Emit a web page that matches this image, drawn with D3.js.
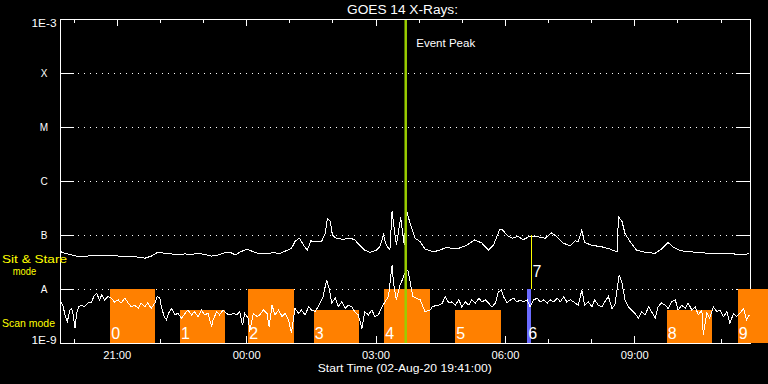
<!DOCTYPE html>
<html><head><meta charset="utf-8">
<script src="https://cdn.jsdelivr.net/npm/d3@7"></script>
<style>
html,body{margin:0;padding:0;background:#000;overflow:hidden;}
svg{display:block;}
text{font-family:"Liberation Sans",Arial,sans-serif;}
</style></head><body>
<svg id="chart" width="768" height="384"></svg>
<script>
// ---------- data ----------
const chartTitle = "GOES 14 X-Rays:";
const startLabel = "Start Time (02-Aug-20 19:41:00)";
const startTime = "2020-08-02T19:41:00";
const endTime = "2020-08-03T11:41:00";

const yTickValues = [1e-9, 1e-8, 1e-7, 1e-6, 1e-5, 1e-4, 1e-3];
const yTickLabels = ["1E-9", "A", "B", "C", "M", "X", "1E-3"];
const gridLevels = [1e-8, 1e-7, 1e-6, 1e-5, 1e-4];

// GOES long channel: [minutes after start, log10 flux (W/m^2)]
const longSeries = [[1,-7.31],[7,-7.34],[16,-7.37],[25,-7.40],[34,-7.40],[44,-7.38],[53,-7.37],[62,-7.38],[71,-7.37],[81,-7.39],[90,-7.39],[99,-7.40],[109,-7.41],[118,-7.43],[127,-7.39],[136,-7.32],[146,-7.34],[155,-7.35],[164,-7.37],[174,-7.35],[183,-7.36],[192,-7.34],[201,-7.36],[211,-7.39],[220,-7.37],[229,-7.33],[238,-7.33],[244,-7.37],[250,-7.32],[260,-7.26],[269,-7.31],[278,-7.35],[288,-7.34],[297,-7.33],[306,-7.34],[315,-7.29],[322,-7.25],[327,-7.12],[333,-7.06],[339,-7.19],[344,-7.28],[349,-7.11],[357,-7.12],[364,-7.12],[369,-6.97],[372,-6.69],[376,-6.75],[379,-7.00],[384,-7.06],[394,-7.08],[404,-7.06],[410,-7.09],[417,-7.19],[424,-7.28],[431,-7.32],[440,-7.28],[445,-7.22],[450,-7.00],[454,-7.19],[459,-7.28],[462,-6.56],[468,-7.19],[474,-6.67],[479,-7.19],[482,-6.54],[487,-6.78],[494,-7.06],[501,-7.12],[508,-7.26],[519,-7.31],[526,-7.29],[538,-7.23],[552,-7.26],[566,-7.19],[577,-7.09],[587,-7.15],[596,-7.28],[603,-7.19],[612,-6.89],[616,-6.91],[623,-7.02],[630,-7.06],[637,-7.02],[644,-7.09],[654,-7.02],[663,-7.03],[675,-7.06],[684,-6.96],[691,-7.03],[700,-7.15],[710,-7.20],[717,-7.11],[721,-7.12],[726,-6.91],[730,-7.14],[740,-7.19],[754,-7.22],[763,-7.25],[775,-7.31],[777,-6.66],[782,-6.75],[786,-6.97],[793,-7.12],[802,-7.28],[814,-7.32],[828,-7.34],[837,-7.26],[846,-7.14],[853,-7.22],[863,-7.29],[874,-7.31],[888,-7.32],[902,-7.34],[916,-7.35],[930,-7.34],[944,-7.36],[958,-7.35]];

// GOES short channel: [minutes after start, log10 flux (W/m^2)]
const shortSeries = [[1,-8.24],[4,-8.31],[7,-8.48],[10,-8.61],[14,-8.39],[16,-8.36],[18,-8.45],[21,-8.73],[23,-8.45],[26,-8.33],[30,-8.30],[34,-8.33],[39,-8.26],[44,-8.24],[47,-8.14],[51,-8.08],[55,-8.20],[58,-8.11],[62,-8.20],[67,-8.14],[71,-8.17],[76,-8.24],[81,-8.20],[85,-8.26],[90,-8.17],[95,-8.26],[99,-8.33],[104,-8.30],[109,-8.36],[113,-8.26],[118,-8.33],[122,-8.26],[127,-8.36],[132,-8.26],[135,-8.14],[139,-8.17],[141,-8.33],[145,-8.51],[148,-8.57],[151,-8.45],[155,-8.36],[160,-8.48],[164,-8.45],[169,-8.54],[174,-8.45],[178,-8.39],[183,-8.48],[187,-8.42],[192,-8.51],[197,-8.39],[201,-8.48],[206,-8.45],[211,-8.70],[213,-8.57],[218,-8.42],[222,-8.48],[227,-8.39],[231,-8.45],[236,-8.48],[241,-8.45],[246,-8.48],[250,-8.42],[254,-8.67],[257,-8.45],[262,-8.54],[264,-8.79],[269,-8.45],[274,-8.51],[278,-8.48],[283,-8.39],[288,-8.45],[291,-8.70],[295,-8.30],[299,-8.48],[304,-8.39],[309,-8.51],[313,-8.45],[318,-8.57],[322,-8.82],[327,-8.36],[332,-8.45],[336,-8.39],[341,-8.48],[346,-8.33],[350,-8.39],[355,-8.42],[359,-8.33],[366,-8.14],[371,-7.83],[375,-8.02],[378,-8.26],[383,-8.17],[387,-8.33],[392,-8.24],[397,-8.36],[401,-8.30],[406,-8.33],[410,-8.42],[415,-8.48],[420,-8.73],[424,-8.42],[429,-8.48],[434,-8.39],[438,-8.51],[443,-8.48],[448,-8.33],[452,-8.24],[457,-8.14],[462,-7.56],[464,-7.89],[468,-8.20],[473,-7.93],[475,-7.87],[480,-7.70],[484,-7.65],[491,-8.14],[501,-8.20],[508,-8.42],[515,-8.39],[518,-8.33],[522,-8.31],[527,-8.30],[532,-8.26],[536,-8.14],[541,-8.26],[545,-8.24],[550,-8.30],[555,-8.20],[559,-8.33],[564,-8.24],[569,-8.30],[573,-8.20],[578,-8.26],[583,-8.17],[587,-8.24],[592,-8.20],[596,-8.26],[601,-8.33],[606,-8.26],[610,-8.05],[614,-8.02],[617,-8.14],[622,-8.26],[627,-8.20],[631,-8.17],[636,-8.24],[640,-8.20],[645,-8.24],[650,-8.20],[654,-8.33],[659,-8.20],[664,-8.17],[668,-8.24],[673,-8.20],[678,-8.26],[682,-8.20],[687,-8.24],[692,-8.17],[696,-8.24],[701,-8.14],[705,-8.24],[710,-8.20],[715,-8.24],[721,-8.30],[726,-8.02],[730,-8.30],[735,-8.24],[740,-8.33],[744,-8.20],[749,-8.30],[754,-8.33],[758,-8.24],[763,-8.14],[768,-8.36],[772,-8.30],[778,-7.74],[782,-7.89],[786,-8.20],[791,-8.33],[795,-8.39],[800,-8.45],[805,-8.54],[809,-8.42],[814,-8.48],[819,-8.33],[823,-8.42],[828,-8.54],[832,-8.33],[837,-8.26],[842,-8.30],[846,-8.36],[851,-8.24],[856,-8.20],[860,-8.39],[865,-8.30],[870,-8.36],[874,-8.26],[879,-8.39],[884,-8.33],[888,-8.48],[893,-8.39],[895,-8.85],[900,-8.45],[904,-8.54],[909,-8.33],[914,-8.42],[918,-8.39],[923,-8.51],[928,-8.42],[932,-8.64],[937,-8.45],[941,-8.51],[946,-8.45],[951,-8.36],[955,-8.57],[959,-8.48]];

// observation windows
const obsLabels = ["0","1","2","3","4","5","6","8","9"];
const obsStart  = ["20:51","22:28","00:03","01:34","03:12","04:51","06:31","09:45","11:24"];
const obsEnd    = ["21:53","23:31","01:07","02:37","04:16","05:54","06:36","10:48","12:10"];
const obsTop    = [1e-8, 4.1e-9, 1e-8, 4.1e-9, 1e-8, 4.1e-9, 1e-8, 4.1e-9, 1e-8];
const obsKind   = ["raster","scan","raster","scan","raster","scan","short","scan","raster"];

// sit & stare marker
const stareLabel = "7";
const stareTime = "06:36";
const stareRange = [1e-8, 1e-7];

// event peak
const peakLabel = "Event Peak";
const peakTime = "03:42";

// ---------- drawing ----------
const svg = d3.select("#chart");
svg.append("rect").attr("width", 768).attr("height", 384).attr("fill", "#000");

const L = 60, R = 750, T = 19, B = 343;
const t0 = new Date(startTime), t1 = new Date(endTime);
const x = d3.scaleTime().domain([t0, t1]).range([L, R]);
const y = d3.scaleLog().domain([1e-9, 1e-3]).range([B, T]);

function clock(hhmm) {
  const [h, m] = hhmm.split(":").map(Number);
  const day = h >= 19 ? 2 : 3;
  return new Date(2020, 7, day, h, m, 0);
}
const toPts = s => s.map(([m, lg]) => ({ date: new Date(t0.getTime() + m * 60000), flux: Math.pow(10, lg) }));

const kindColor = { raster: "#ff8000", scan: "#ff8000", short: "#6b6bff" };

// dotted grid
svg.append("g").selectAll("line").data(gridLevels).join("line")
  .attr("x1", L + 18).attr("x2", R - 14)
  .attr("y1", d => Math.round(y(d)) + 0.5).attr("y2", d => Math.round(y(d)) + 0.5)
  .attr("stroke", "#fff").attr("stroke-width", 1).attr("stroke-dasharray", "1 5")
  .attr("shape-rendering", "crispEdges");

// y ticks left and right (inward)
const yTicks = svg.append("g").attr("shape-rendering", "crispEdges");
yTicks.selectAll("line.l").data(gridLevels).join("line").attr("class", "l")
  .attr("x1", L).attr("x2", L + 14)
  .attr("y1", d => Math.round(y(d)) + 0.5).attr("y2", d => Math.round(y(d)) + 0.5)
  .attr("stroke", "#fff");
yTicks.selectAll("line.r").data(gridLevels).join("line").attr("class", "r")
  .attr("x1", R - 14).attr("x2", R)
  .attr("y1", d => Math.round(y(d)) + 0.5).attr("y2", d => Math.round(y(d)) + 0.5)
  .attr("stroke", "#fff");

// x axes (ticks inward)
const major = d3.timeHour.every(3).range(t0, t1);
const minor = d3.timeHour.every(1).range(t0, t1);
const fmt = d3.timeFormat("%H:%M");

const gBotMinor = svg.append("g").attr("transform", `translate(0,${B})`)
  .call(d3.axisBottom(x).tickValues(minor).tickSize(-4).tickFormat(""));
const gBot = svg.append("g").attr("transform", `translate(0,${B})`)
  .call(d3.axisBottom(x).tickValues(major).tickSize(-7).tickPadding(8).tickFormat(fmt));
const gTopMinor = svg.append("g").attr("transform", `translate(0,${T})`)
  .call(d3.axisTop(x).tickValues(minor).tickSize(-4).tickFormat(""));
const gTop = svg.append("g").attr("transform", `translate(0,${T})`)
  .call(d3.axisTop(x).tickValues(major).tickSize(-7).tickFormat(""));
[gBotMinor, gBot, gTopMinor, gTop].forEach(g => {
  g.select(".domain").remove();
  g.selectAll("line").attr("stroke", "#fff").attr("shape-rendering", "crispEdges");
  g.selectAll("text").attr("fill", "#fff").attr("font-size", 11)
    .attr("font-family", "Liberation Sans, Arial, sans-serif")
    .attr("textLength", 28).attr("lengthAdjust", "spacingAndGlyphs");
});

// frame
svg.append("rect").attr("x", L + 0.5).attr("y", T + 0.5).attr("width", R - L).attr("height", B - T)
  .attr("fill", "none").attr("stroke", "#fff").attr("stroke-width", 1)
  .attr("shape-rendering", "crispEdges");

// y labels
const ylab = svg.append("g").attr("fill", "#fff").attr("font-size", 10);
yTickValues.forEach((v, i) => {
  const lab = yTickLabels[i];
  const t = ylab.append("text").text(lab);
  if (lab.startsWith("1E")) {
    const yy = (v === 1e-3) ? y(v) + 8.3 : y(v) + 1;
    t.attr("x", 31.5).attr("y", yy).attr("textLength", 25).attr("lengthAdjust", "spacingAndGlyphs");
  } else {
    t.attr("x", 44).attr("y", y(v) + 3.7).attr("text-anchor", "middle");
  }
});

// observation bars
const bars = obsLabels.map((lab, i) => ({ lab, s: clock(obsStart[i]), e: clock(obsEnd[i]), top: obsTop[i], kind: obsKind[i] }));
svg.append("g").selectAll("rect").data(bars).join("rect")
  .attr("x", d => x(d.s)).attr("width", d => x(d.e) - x(d.s))
  .attr("y", d => y(d.top)).attr("height", d => y(1e-9) - y(d.top))
  .attr("fill", d => kindColor[d.kind]).attr("shape-rendering", "crispEdges");

// curves
const line = d3.line().x(d => x(d.date)).y(d => y(d.flux));
svg.append("path").datum(toPts(longSeries)).attr("d", line)
  .attr("fill", "none").attr("stroke", "#fff").attr("stroke-width", 1)
  .attr("shape-rendering", "crispEdges");
svg.append("path").datum(toPts(shortSeries)).attr("d", line)
  .attr("fill", "none").attr("stroke", "#fff").attr("stroke-width", 1)
  .attr("shape-rendering", "crispEdges");

// bar labels
svg.append("g").selectAll("text").data(bars).join("text")
  .attr("x", d => x(d.s) + 1).attr("y", y(1e-9) - 4.5)
  .attr("fill", "#fff").attr("font-size", 16).text(d => d.lab);

// sit & stare marker
const sx = Math.round(x(clock(stareTime))) + 0.5;
svg.append("line").attr("x1", sx).attr("x2", sx)
  .attr("y1", y(stareRange[1])).attr("y2", y(stareRange[0]))
  .attr("stroke", "#ffff00").attr("stroke-width", 1).attr("shape-rendering", "crispEdges");
svg.append("text").attr("x", sx + 1).attr("y", y(stareRange[0]) - 11.7)
  .attr("fill", "#fff").attr("font-size", 16).text(stareLabel);

// event peak
const px = x(clock(peakTime));
svg.append("line").attr("x1", px).attr("x2", px).attr("y1", T + 1).attr("y2", B)
  .attr("stroke", "#9acd00").attr("stroke-width", 2.5);
svg.append("text").attr("x", px + 10.5).attr("y", 46.7).attr("fill", "#fff")
  .attr("font-size", 10).attr("textLength", 59).attr("lengthAdjust", "spacingAndGlyphs").text(peakLabel);

// title & footer
svg.append("text").attr("x", 347).attr("y", 14).attr("fill", "#fff").attr("font-size", 12)
  .attr("textLength", 111).attr("lengthAdjust", "spacingAndGlyphs").text(chartTitle);
svg.append("text").attr("x", 317.7).attr("y", 372.3).attr("fill", "#fff").attr("font-size", 11)
  .attr("textLength", 174).attr("lengthAdjust", "spacingAndGlyphs").text(startLabel);

// mode labels
const ml = svg.append("g").attr("fill", "#ffff00").attr("font-size", 11.5);
ml.append("text").attr("x", 2).attr("y", 263.3).attr("textLength", 65).attr("lengthAdjust", "spacingAndGlyphs").text("Sit & Stare");
ml.append("text").attr("x", 12.7).attr("y", 275).attr("textLength", 23.5).attr("lengthAdjust", "spacingAndGlyphs").text("mode");
ml.append("text").attr("x", 2).attr("y", 327.3).attr("textLength", 53).attr("lengthAdjust", "spacingAndGlyphs").text("Scan mode");
</script>
</body></html>
